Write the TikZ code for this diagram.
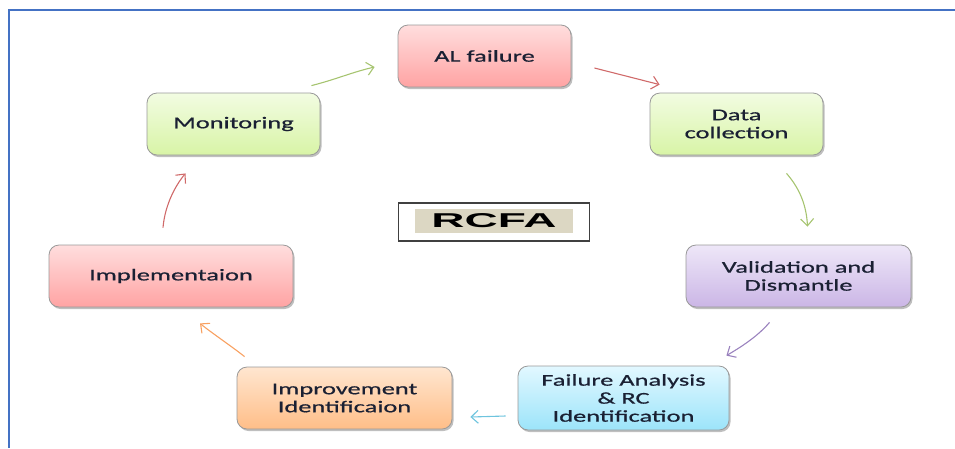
\documentclass[tikz,border=0pt]{standalone}
\usepackage{fontspec}
\setmainfont{Carlito}[FakeStretch=1.6,FakeBold=0.7]
\newfontfamily\rcfafont{Liberation Sans}[FakeStretch=2.3]
\usetikzlibrary{arrows.meta,shadows,calc}
\definecolor{frameblue}{HTML}{4472C4}
\definecolor{txt}{HTML}{1A2033}
\definecolor{redT}{HTML}{FFDEDE}\definecolor{redB}{HTML}{FFA3A3}
\definecolor{grnT}{HTML}{F2FCE2}\definecolor{grnB}{HTML}{D8F4A6}
\definecolor{purT}{HTML}{EEE7F8}\definecolor{purB}{HTML}{CBB6E6}
\definecolor{bluT}{HTML}{E2F8FF}\definecolor{bluB}{HTML}{9CE4FA}
\definecolor{orgT}{HTML}{FFE6D0}\definecolor{orgB}{HTML}{FFBE88}
\definecolor{aGreen}{HTML}{A6C470}
\definecolor{aRed}{HTML}{D06A6A}
\definecolor{aPurple}{HTML}{9A82BE}
\definecolor{aBlue}{HTML}{6EC4DE}
\definecolor{aOrange}{HTML}{F8A060}
\definecolor{tan}{HTML}{DCD7C3}
\tikzset{
  stepbox/.style={draw=black!40, line width=0.8pt, rounded corners=10pt,
    inner sep=0pt, align=center, text=txt,
    font=\fontsize{16.5}{18}\selectfont,
    drop shadow={shadow xshift=1.5pt, shadow yshift=-2pt, opacity=0.25, fill=black}},
  redbox/.style={stepbox, top color=redT, bottom color=redB},
  grnbox/.style={stepbox, top color=grnT, bottom color=grnB},
  purbox/.style={stepbox, top color=purT, bottom color=purB},
  blubox/.style={stepbox, top color=bluT, bottom color=bluB},
  orgbox/.style={stepbox, top color=orgT, bottom color=orgB},
  flow/.style={line width=1.1pt, -{Straight Barb[length=7pt,width=13pt,line width=1.1pt]}},
}
\begin{document}
\begin{tikzpicture}[x=1pt,y=-1pt]
\useasboundingbox (0,0) rectangle (955,448);
% frame
\coordinate (fbl) at (9,448);
\coordinate (ftl) at (9,10);
\coordinate (ftr) at (955,10);
\draw[frameblue, line width=1.6pt] (fbl) -- (ftl) -- (ftr);
% boxes
\node[redbox, minimum width=173pt, minimum height=62pt] (al) at (484.5,56) {AL failure};
\node[grnbox, minimum width=173pt, minimum height=62pt] (data) at (736.5,124) {Data\\collection};
\node[purbox, minimum width=225pt, minimum height=62pt] (val) at (798.5,276) {Validation and\\Dismantle};
\node[blubox, minimum width=211pt, minimum height=64pt] (fail) at (623.5,398) {Failure Analysis\\\& RC\\Identification};
\node[orgbox, minimum width=215pt, minimum height=62pt] (imp) at (344.5,398) {Improvement\\Identificaion};
\node[redbox, minimum width=244pt, minimum height=62pt] (impl) at (171,276) {Implementaion};
\node[grnbox, minimum width=173pt, minimum height=62pt] (mon) at (233.5,124) {Monitoring};
% RCFA
\node[draw=black!75, line width=1.2pt, minimum width=191pt, minimum height=38pt, inner sep=0pt] (rcfaframe) at (494,222) {};
\node[fill=tan, minimum width=158pt, minimum height=24pt, inner sep=0pt,
      font=\rcfafont\bfseries\fontsize{20}{20}\selectfont, text=black] (rcfa) at (494,221) {RCFA};
% arrows
\draw[flow, aGreen] ($(mon.north east)+(-9,-7)$) .. controls ($(mon.north east)+(15,-13)$) and ($(al.west)+(-45,16)$) .. ($(al.west)+(-23,11)$);
\draw[flow, aRed] ($(al.east)+(23,12)$) -- ($(data.north west)+(10,-8)$);
\draw[flow, aGreen] ($(data.south)+(50,18)$) .. controls ($(data.south)+(64,34)$) and ($(val.north)+(8,-38)$) .. ($(val.north)+(9,-18)$);
\draw[flow, aPurple] ($(val.south)+(-29,15)$) .. controls ($(val.south)+(-40,28)$) and ($(fail.north east)+(14,-20)$) .. ($(fail.north east)+(-3,-10)$);
\draw[flow, aBlue] ($(fail.west)+(-12,18)$) -- ($(imp.east)+(18,19)$);
\draw[flow, aOrange] ($(imp.north west)+(8,-10)$) .. controls ($(imp.north west)+(-6,-21)$) and ($(impl.south)+(40,25)$) .. ($(impl.south)+(29,16)$);
\draw[flow, aRed] ($(impl.north)+(-8,-17)$) .. controls ($(impl.north)+(-6,-40)$) and ($(mon.south)+(-58,30)$) .. ($(mon.south)+(-48,18)$);
\end{tikzpicture}
\end{document}
